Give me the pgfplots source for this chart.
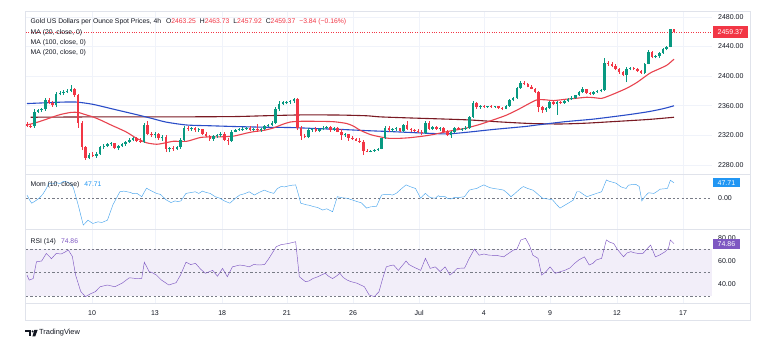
\documentclass[border=0pt]{standalone}
\usepackage{fontspec}
\setmainfont{Liberation Sans}
\usepackage{pgfplots}
\usepackage{pgfplotstable}
\pgfplotsset{compat=1.18}
\definecolor{upc}{HTML}{089981}
\definecolor{dnc}{HTML}{F23645}
\definecolor{ma20c}{HTML}{E8434F}
\definecolor{ma100c}{HTML}{2A4DC8}
\definecolor{ma200c}{HTML}{7A1A23}
\definecolor{momc}{HTML}{2196F3}
\definecolor{momline}{HTML}{4AA6EE}
\definecolor{rsic}{HTML}{7E57C2}
\definecolor{bandc}{HTML}{F2EEF9}
\definecolor{gridc}{HTML}{F0F3FA}
\definecolor{framec}{HTML}{E0E3EB}
\definecolor{txtc}{HTML}{131722}
\definecolor{dashc}{HTML}{787B86}
\newcommand{\fa}{\fontsize{7}{8}\selectfont}
\newcommand{\ft}{\fontsize{6.8}{8}\selectfont}

\pgfplotstableread{
i o h l c
0 2336 2338 2331 2333
1 2333 2336 2330 2332
2 2332 2355 2330 2352
3 2352 2356 2350 2354
4 2354 2357 2352 2355
5 2355 2370 2353 2368
6 2368 2370 2362 2364
7 2364 2366 2359 2361
8 2361 2378 2358 2376
9 2376 2380 2374 2377.5
10 2377.5 2381 2375 2379
11 2379 2383 2377 2380.5
12 2380.5 2388 2378 2382
13 2382 2384 2372 2374
14 2374 2376 2330 2337
15 2337 2340 2300 2304
16 2304 2306 2287 2289
17 2289 2296 2288 2294
18 2294 2297 2291 2292.5
19 2292.5 2297 2290 2295
20 2295 2306 2294 2304
21 2304 2308 2302 2306
22 2306 2310 2304 2308
23 2308 2311 2306 2309.5
24 2309.5 2310 2301 2303
25 2303 2307 2300 2305
26 2305 2310 2304 2308
27 2308 2313 2306 2311
28 2311 2316 2310 2314
29 2314 2318 2312 2316
30 2316 2318 2311 2313
31 2313 2316 2310 2311.5
32 2311.5 2337 2310 2334
33 2334 2340 2320 2322
34 2322 2325 2318 2320
35 2320 2324 2316 2322
36 2322 2323 2314 2316
37 2316 2320 2313 2318
38 2318 2320 2298 2301
39 2301 2304 2297 2302.5
40 2302.5 2305 2299 2301
41 2301 2305 2300 2304
42 2304 2316 2302 2314
43 2314 2332 2312 2330
44 2330 2333 2326 2328
45 2328 2331 2326 2329.5
46 2329.5 2331 2325 2327
47 2327 2330 2325 2328.5
48 2328.5 2329 2320 2322
49 2322 2324 2318 2319
50 2319 2321 2313 2315
51 2315 2320 2313 2319
52 2319 2322 2317 2320.5
53 2320.5 2324 2318 2322
54 2322 2325 2313 2314
55 2314 2316 2307 2312.5
56 2312.5 2327 2311 2325
57 2325 2329 2324 2327
58 2327 2330 2326 2328
59 2328 2331 2326 2329
60 2329 2331 2327 2330.5
61 2330.5 2332 2326 2327
62 2327 2330 2326 2328.5
63 2328.5 2336 2325 2327
64 2327 2330 2325 2329
65 2329 2334 2327 2332
66 2332 2336 2331 2334
67 2334 2339 2332 2337
68 2337 2358 2335 2355
69 2355 2367 2353 2363
70 2363 2366 2361 2364.5
71 2364.5 2367 2362 2365.5
72 2365.5 2368 2363 2367
73 2367 2370 2364 2368.5
74 2368.5 2370 2327 2330
75 2330 2332 2314 2319
76 2319 2322 2316 2317.5
77 2317.5 2330 2316 2327
78 2327 2330 2325 2328.5
79 2328.5 2331 2324 2326
80 2326 2330 2324 2329
81 2329 2332 2327 2330
82 2330 2333 2328 2331.5
83 2331.5 2332 2325 2327
84 2327 2331 2326 2330
85 2330 2331 2324 2325
86 2325 2328 2314 2320
87 2320 2323 2318 2321.5
88 2321.5 2322 2313 2317
89 2317 2319 2314 2315
90 2315 2317 2312 2313
91 2313 2316 2310 2311.5
92 2311.5 2314 2294 2299
93 2299 2301 2297 2297.8
94 2297.8 2300 2297 2299
95 2299 2301 2298 2300
96 2300 2303 2299 2302
97 2302 2317 2301 2316
98 2316 2332 2315 2330
99 2330 2332 2325 2327
100 2327 2330 2325 2328.5
101 2328.5 2331 2326 2329.5
102 2329.5 2330 2325 2326
103 2326 2336 2324 2334
104 2334 2340 2327 2328
105 2328 2330 2325 2327
106 2327 2329 2324 2325.8
107 2325.8 2329 2323 2324.5
108 2324.5 2327 2320 2323
109 2323 2339 2322 2337
110 2337 2339 2327 2329
111 2329 2333 2327 2331
112 2331 2332 2327 2328
113 2328 2331 2326 2330
114 2330 2331 2324 2325
115 2325 2327 2319 2320
116 2320 2326 2317 2325
117 2325 2331 2323 2330
118 2330 2331 2327 2328
119 2328 2330 2326 2329
120 2329 2332 2327 2330.5
121 2330.5 2346 2329 2345
122 2345 2366 2344 2364
123 2364 2365 2356 2358
124 2358 2361 2356 2360
125 2360 2361 2357 2358.5
126 2358.5 2360 2357 2359.5
127 2359.5 2361 2357 2358.3
128 2358.3 2360 2357 2359.3
129 2359.3 2360 2356 2357.5
130 2357.5 2359 2354 2356
131 2356 2361 2355 2360
132 2360 2369 2359 2368
133 2368 2372 2366 2370
134 2370 2386 2369 2384
135 2384 2393 2383 2391
136 2391 2393 2388 2389.8
137 2389.8 2391 2385 2386
138 2386 2388 2382 2383
139 2383 2384 2377 2378
140 2378 2380 2351 2358
141 2358 2360 2350 2354
142 2354 2358 2352 2357
143 2357 2367 2356 2365
144 2365 2367 2361 2363
145 2363 2367 2348 2365
146 2365 2367 2362 2364
147 2364 2368 2363 2367
148 2367 2371 2365 2369
149 2369 2373 2368 2371
150 2371 2375 2369 2374
151 2374 2380 2373 2379
152 2379 2386 2377 2382
153 2382 2383 2376 2377
154 2377 2378 2374 2375.5
155 2375.5 2380 2374 2379
156 2379 2381 2377 2380.2
157 2380.2 2383 2378 2381.5
158 2381.5 2424 2380 2418
159 2418 2420 2414 2416
160 2416 2419 2412 2414
161 2414 2416 2408 2410
162 2410 2411 2403 2405
163 2405 2407 2400 2402
164 2402 2412 2392 2410
165 2410 2413 2408 2411.3
166 2411.3 2412 2408 2410
167 2410 2411 2406 2407
168 2407 2409 2403 2404
169 2404 2418 2403 2417
170 2417 2435 2416 2433
171 2433 2434 2424 2426
172 2426 2428 2424 2427.2
173 2427.2 2432 2425 2431
174 2431 2438 2430 2437
175 2437 2441 2435 2440
176 2440 2464 2439 2463.25
177 2463.25 2463.73 2457.92 2459.37
}\candles

\tikzset{
  boxlab/.style={anchor=west, xshift=1pt, inner xsep=4.5pt, inner ysep=0pt, text=white, font=\fa},
}
\pgfplotsset{
  upfilt/.style={restrict expr to domain={\thisrow{c}-\thisrow{o}}{0:10000}},
  dnfilt/.style={restrict expr to domain={\thisrow{c}-\thisrow{o}}{-10000:0}},
  tvbase/.style={scale only axis, width=686pt, xmin=-0.27, xmax=187.4,
    anchor=south west, axis line style={draw=none}, major tick length=0pt, clip=false,
    xtick={17.8,35,53.4,71.1,89.2,107.3,125,143.1,161.4,179.5},
    xmajorgrids, major grid style={draw=gridc, line width=0.6pt},
    yticklabel pos=right,
    yticklabel style={anchor=west, inner sep=0pt, xshift=6pt, font=\fa, text=txtc},
    xticklabel style={anchor=center, inner sep=0pt, yshift=-10pt, font=\fa, text=txtc}},
  dashl/.style={dashc, line width=0.5pt, dash pattern=on 2.2pt off 2.2pt},
}

\begin{document}
\begin{tikzpicture}
\useasboundingbox (0pt,0pt) rectangle (765pt,347pt);
\fill[white] (0pt,0pt) rectangle (765pt,347pt);

% ---------------- price pane ----------------
\begin{axis}[tvbase, at={(26pt,173pt)}, height=163pt, ymin=2267.8, ymax=2488.1,
  ytick={2280,2320,2360,2400,2440,2480},
  yticklabels={2280.00,2320.00,2360.00,2400.00,2440.00,2480.00},
  ymajorgrids, xticklabels={},
  after end axis/.code={\node[boxlab, fill=dnc, minimum height=11.5pt] at (axis cs:187.4,2459.37) {2459.37};}]
\addplot[dnc, line width=0.5pt, dash pattern=on 0.8pt off 1.6pt] coordinates {(-0.27,2459.37) (187.4,2459.37)};
\addplot[ma200c, line width=1.1pt, smooth, tension=0.4] coordinates {
(1,2344.5) (20,2345) (40,2345) (56.5,2345.4) (65,2346.5) (74.7,2347.6) (85,2347.5) (92.9,2346.5)
(96.6,2345) (105,2343.5) (120.3,2341) (130,2338) (138,2336) (146,2335.4) (153,2336.5) (160,2338.5)
(170,2341.5) (177,2344.5)};
\addplot[ma100c, line width=1.1pt, smooth, tension=0.4] coordinates {
(0,2363) (5,2364) (10,2365) (13.6,2365) (18,2362) (24,2355) (30,2348) (33.7,2343.5) (38,2338)
(43.7,2334) (50,2333) (56.5,2332) (65,2331) (72.9,2330.5) (80,2329) (86,2328) (92.9,2326.4)
(100,2325) (108.9,2323) (115,2322) (120,2324) (127.6,2328) (136.3,2332) (139.5,2334)
(147.2,2338.5) (155,2342) (164,2347.6) (170,2352) (174,2356) (177,2360)};
\addplot[ma20c, line width=1.1pt, smooth, tension=0.4] coordinates {
(0,2334) (3,2338) (6,2343) (9,2348) (12,2351) (14,2351) (16,2348) (18,2345) (20,2341) (23,2334)
(27,2325) (30,2316) (32.7,2310) (35.5,2308) (38,2310) (40,2312) (43.7,2312) (47.3,2317) (50,2318)
(52.8,2318) (56.5,2319) (60,2323) (62,2325) (65,2327) (67.4,2330) (70,2335) (72,2338) (74.7,2339)
(79,2339) (83.8,2338.5) (87.5,2336) (89.5,2332) (91.1,2327) (94,2321) (96.6,2318) (99,2316)
(102,2316) (105,2317) (108.4,2319) (111,2321) (114.8,2325) (117,2327) (120.3,2330) (124,2335)
(127.6,2341) (131,2347) (134,2354) (137,2362) (139.5,2368) (142,2368) (144,2367) (147.7,2369)
(150,2370) (153.1,2371.5) (155,2371) (157.2,2370) (159,2373) (161,2377) (164.2,2384) (167,2392)
(170.4,2404) (173,2410) (175.1,2415) (177,2423)};
% candles: wicks then bodies
\addplot[upc, line width=0.6pt, upfilt, quiver={u=0, v=\thisrow{h}-\thisrow{l}}] table[x=i, y=l] {\candles};
\addplot[upc, line width=2.5pt, upfilt, quiver={u=0, v=\thisrow{c}-\thisrow{o}}] table[x=i, y=o] {\candles};
\addplot[dnc, line width=0.6pt, dnfilt, quiver={u=0, v=\thisrow{h}-\thisrow{l}}] table[x=i, y=l] {\candles};
\addplot[dnc, line width=2.5pt, dnfilt, quiver={u=0, v=\thisrow{c}-\thisrow{o}}] table[x=i, y=o] {\candles};
\end{axis}

% ---------------- momentum pane ----------------
\begin{axis}[tvbase, at={(26pt,118pt)}, height=55pt, ymin=-93.9, ymax=74.4,
  ytick={0}, yticklabels={0.00}, xticklabels={},
  after end axis/.code={\node[boxlab, fill=momc, minimum height=9.5pt] at (axis cs:187.4,47.71) {47.71};}]
\addplot[dashl] coordinates {(-0.27,0) (187.4,0)};
\addplot[momline, line width=0.45pt] coordinates {
(0,10) (0.7,-5) (1.3,-15) (2.3,-8) (3.3,0) (4.3,12) (5.3,30) (6,46) (7,44) (8,48) (9,45) (10,52)
(11,50) (12,44) (12.7,32) (14,-20) (15.4,-82) (16.7,-67) (18,-77) (19.4,-72) (20.5,-74) (22,-67)
(23.5,-20) (25.4,20) (26.5,22) (27.4,20) (28.3,18) (29,14) (30.1,15) (31.4,5) (32.7,31) (33.8,24)
(35.4,15) (36.5,12) (38.1,-5) (39.4,-13) (40.5,-8) (41.3,-10) (42.1,-8) (43.5,15) (45,18) (46.1,20)
(47,15) (48,22) (49,18) (50.1,15) (51.5,5) (52.8,0) (54,-8) (55.5,-15) (57,0) (58.2,10) (59.5,14)
(60.8,20) (62.2,10) (63.5,18) (64.9,25) (66,20) (67.5,15) (68.5,30) (69.5,36) (70.5,35) (71.5,38)
(72.5,40) (73.5,41) (74.3,10) (74.9,-15) (76.5,-20) (77.5,-22) (78.2,-25) (79.5,-28) (80.9,-36)
(82,-32) (83.6,-41) (84.9,5) (86,2) (87.6,0) (89,-5) (90.3,-10) (91.5,-14) (92.9,-30) (94,-26)
(95.6,-25) (97,10) (98,12) (99,12) (100,10) (101,15) (102.5,30) (103.7,41) (105,35) (106.3,30)
(107.7,0) (108.3,8) (109,15) (110,5) (110.5,2) (111.7,0) (112.5,8) (113,5) (114.4,5) (115,0)
(116,-2) (117,3) (118.5,3) (119.7,5) (121,25) (122,28) (123,30) (124,36) (125,41) (126.5,33)
(127.7,30) (129,28) (130.4,25) (131.5,15) (132.4,5) (133.2,12) (134,20) (135,30) (135.8,36)
(137,30) (138.4,25) (139.2,18) (140,10) (141.1,0) (142.5,-2) (143.8,-5) (144.8,-18) (145.8,-30)
(147,-22) (148.5,-12) (149.5,-5) (150.4,20) (151.2,20) (152.2,12) (153.2,5) (154.5,10) (155.8,15)
(157.2,20) (158.5,56) (159.3,52) (160,50) (161.2,46) (162.5,35) (163.9,30) (164.5,40) (165.5,42)
(166.5,43) (167.5,36) (168.2,-8) (169,5) (170,17) (171.5,15) (172.5,22) (173.2,28) (174.2,29)
(175.2,30) (176,55) (177,47.71)};
\end{axis}

% ---------------- RSI pane ----------------
\begin{axis}[tvbase, at={(26pt,44pt)}, height=74pt, ymin=24.1, ymax=87.4,
  ytick={40,60,80}, yticklabels={40.00,60.00,80.00},
  xticklabels={10,13,18,21,26,Jul,4,9,12,17},
  after end axis/.code={\node[boxlab, fill=rsic, minimum height=10pt] at (axis cs:187.4,74.4) {74.86};}]
\addplot[fill=bandc, draw=none] coordinates {(-0.27,30) (187.4,30) (187.4,70) (-0.27,70)};
\addplot[dashl] coordinates {(-0.27,70) (187.4,70)};
\addplot[dashl] coordinates {(-0.27,50) (187.4,50)};
\addplot[dashl] coordinates {(-0.27,30) (187.4,30)};
\addplot[rsic, line width=0.45pt] coordinates {
(0,48) (0.6,43.7) (1.7,45) (2.6,59.4) (4,60) (5.3,66.5) (6.7,62) (8,66.5) (9.3,66) (10.3,67.5)
(11.3,69.4) (12.4,64) (13.3,48) (14.7,34) (16,29.5) (17.4,32) (18.7,33.8) (20,38) (22,39.5) (24,38)
(26,41) (28,45.7) (30,45) (31.4,45.2) (32.1,59) (33.4,51) (34.3,50) (35.4,48) (36.8,43.7)
(38.8,39.5) (40.8,41.5) (42,48) (43.5,59) (44.8,57) (46.1,58) (47.5,53) (48.8,49.5) (50.8,52)
(52.1,47) (53.5,53.7) (54.8,46.6) (56.2,55) (58.2,56.6) (59.5,56) (60.8,55) (62,57) (63.5,56.6)
(65,57) (66.2,62.3) (68.2,72.3) (69.5,74) (71.5,75) (73.5,76.5) (74.5,46.6) (76.2,42.3) (77.2,43)
(78.2,45) (79.6,46.6) (80.5,48) (81.6,49.5) (82.5,47) (83.6,45) (84.6,47) (85.6,49.5) (86.5,46)
(87.6,43.7) (88.5,42.5) (90.3,41) (92.3,38) (93.6,31) (95,29.5) (96.3,33.8) (97.3,45) (98.3,55)
(99.3,56) (100.3,56.6) (101.6,52) (103.7,60) (104.5,57) (105.7,55) (107.7,52) (109,62.3)
(110.3,53.7) (111.7,55) (113,51) (114.4,55) (115.7,48) (116.5,50) (117.7,53.7) (119.7,54)
(121,62.3) (122.4,70.2) (123.7,65) (125,66) (126.4,65) (128.5,64.8) (130.4,63.6) (131.5,66)
(133.1,69.4) (134,70) (135.1,78) (136.4,79.4) (137.5,73) (138.4,65) (139.8,62.3) (140.8,48)
(142,51) (143.1,55) (144.5,49.5) (145.5,50.5) (147.1,52) (148.5,54) (149.8,58) (151,61)
(152.5,63.6) (153.8,56.6) (154.8,58) (155.8,61) (157.2,62.3) (158.5,78) (159.5,76) (160.5,75)
(161.5,70) (163.2,63.6) (164.2,67) (165.2,68) (166.2,67) (167.2,66.5) (168.5,66.5) (169.5,70)
(170.6,73.7) (171.9,63.6) (173,65) (174.6,68) (175.5,71) (176,78) (177,74.86)};
\end{axis}

\begin{scope}[x=1pt,y=1pt]
% ---------------- frame and separators ----------------
\draw[framec, line width=0.6pt] (25.5,336) rectangle (750,26.5);
\draw[framec, line width=0.6pt] (25.5,173) -- (750,173);
\draw[framec, line width=0.6pt] (25.5,118) -- (750,118);
\draw[framec, line width=0.6pt] (25.5,44) -- (750,44);

% ---------------- legends ----------------
\node[anchor=west, inner sep=0pt, font=\ft, text=txtc] at (30.5,325.5)
 {Gold US Dollars per Ounce Spot Prices, 4h\hspace{5pt}O\textcolor{dnc}{2463.25}\hspace{4pt}H\textcolor{dnc}{2463.73}\hspace{4pt}L\textcolor{dnc}{2457.92}\hspace{4pt}C\textcolor{dnc}{2459.37}\hspace{4pt}\textcolor{dnc}{−3.84 (−0.16\%)}};
\node[anchor=west, inner sep=0pt, font=\ft, text=txtc] at (30.5,314.7) {MA (20, close, 0)};
\node[anchor=west, inner sep=0pt, font=\ft, text=txtc] at (30.5,304.3) {MA (100, close, 0)};
\node[anchor=west, inner sep=0pt, font=\ft, text=txtc] at (30.5,294.3) {MA (200, close, 0)};
\node[anchor=west, inner sep=0pt, font=\ft, text=txtc] at (30.5,162.5) {Mom (10, close)\hspace{5pt}\textcolor{momc}{47.71}};
\node[anchor=west, inner sep=0pt, font=\ft, text=txtc] at (30.5,105.5) {RSI (14)\hspace{5pt}\textcolor{rsic}{74.86}};

% ---------------- TradingView mark ----------------
\fill[txtc] (25,17) rectangle (31,15.2);
\fill[txtc] (29.2,15.2) rectangle (31,10.5);
\fill[txtc] (32.6,15.6) circle (1.1);
\fill[txtc] (34.3,17) -- (37.6,17) -- (35.2,10.5) -- (32.4,10.5) -- cycle;
\node[anchor=west, inner sep=0pt, font=\fontsize{7.4}{8}\selectfont, text=txtc] at (39,14) {TradingView};
\end{scope}
\end{tikzpicture}
\end{document}
